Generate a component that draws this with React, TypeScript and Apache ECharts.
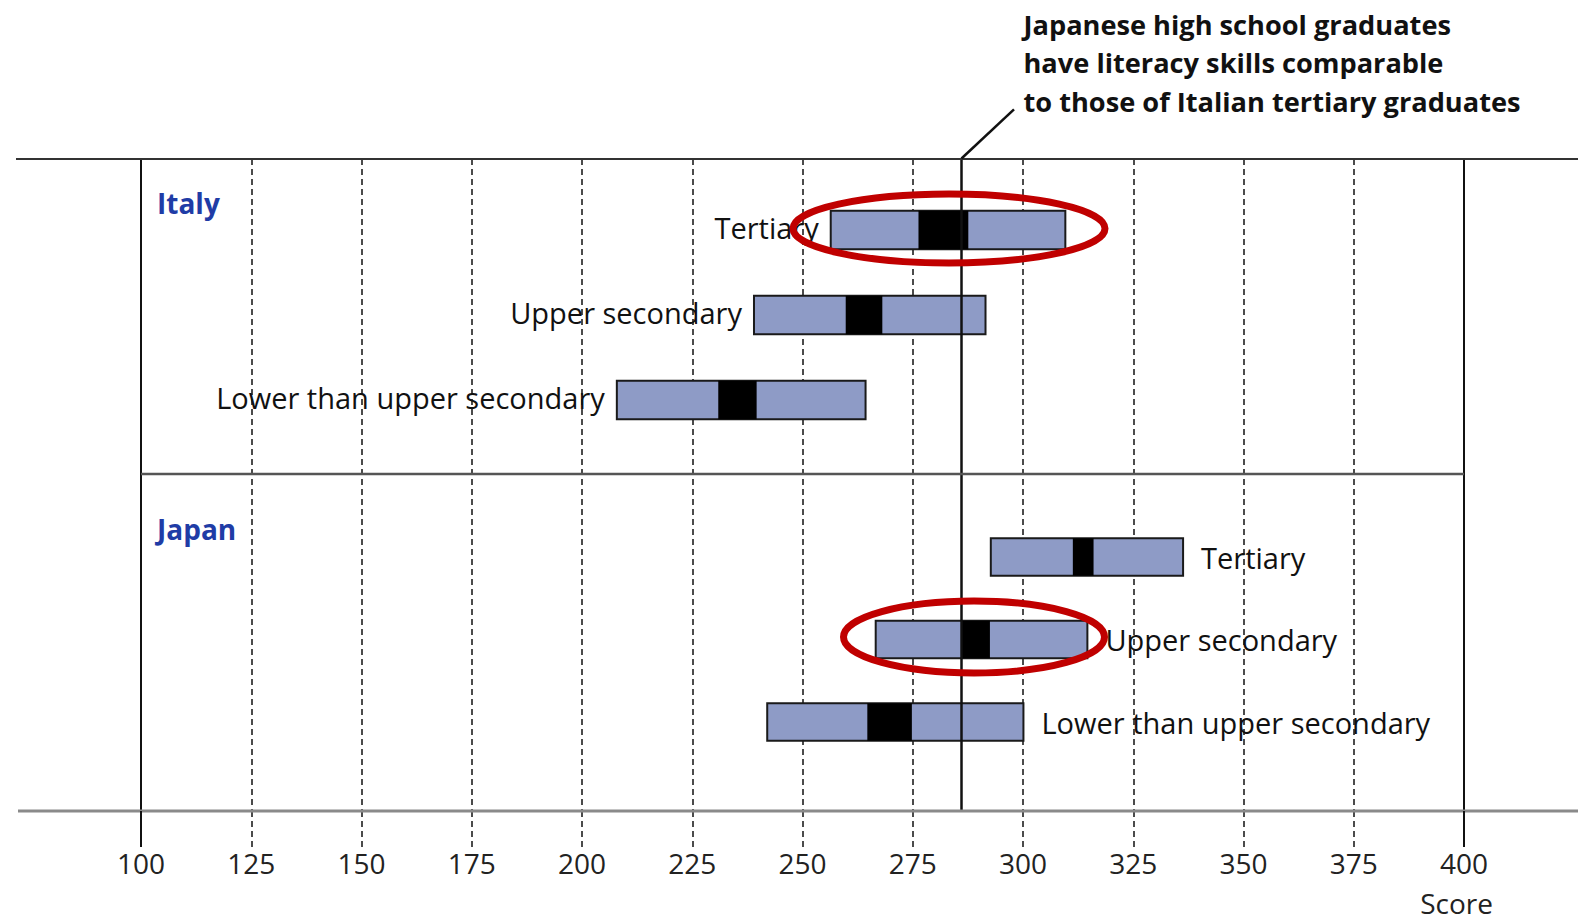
import React, { useEffect, useRef } from 'react';
import * as echarts from 'echarts';

// ---- Data ----
const educationLevels = ['Tertiary', 'Upper secondary', 'Lower than upper secondary'];
const countries = ['Italy', 'Japan'];

// box edges (low / high) and the black band (ciLow / ciHigh), literacy score
const italyLow = [256.4, 239.0, 207.9];
const italyCiLow = [276.3, 259.8, 230.9];
const italyCiHigh = [287.6, 268.1, 239.6];
const italyHigh = [309.6, 291.5, 264.3];

const japanLow = [292.7, 266.6, 242.0];
const japanCiLow = [311.3, 286.0, 264.7];
const japanCiHigh = [316.0, 292.5, 274.8];
const japanHigh = [336.3, 314.6, 300.1];

const referenceScore = 286;
const scoreMin = 100;
const scoreMax = 400;
const scoreStep = 25;

const annotationLines = [
  'Japanese high school graduates',
  'have literacy skills comparable',
  'to those of Italian tertiary graduates',
];

const FONT = 'Open Sans';
const BOX_FILL = '#8E9BC6';
const COUNTRY_BLUE = '#1F3CA6';

function buildRows(low: number[], ciLow: number[], ciHigh: number[], high: number[]) {
  return educationLevels.map((_, i) => [i, low[i], high[i], ciLow[i], ciHigh[i]]);
}

function makeRenderItem(side: 'left' | 'right', gap: number, dy: number) {
  return (params: any, api: any) => {
    const cat = api.value(0);
    const p0 = api.coord([api.value(1), cat]);
    const p1 = api.coord([api.value(2), cat]);
    const c0 = api.coord([api.value(3), cat]);
    const c1 = api.coord([api.value(4), cat]);
    const band = api.size([0, 1])[1];
    const h = band * 0.455;
    const y = p0[1] - h / 2;
    return {
      type: 'group',
      children: [
        {
          type: 'rect',
          shape: { x: p0[0], y, width: p1[0] - p0[0], height: h },
          style: { fill: BOX_FILL, stroke: '#1a1a1a', lineWidth: 2 },
        },
        {
          type: 'rect',
          shape: { x: c0[0], y, width: c1[0] - c0[0], height: h },
          style: { fill: '#000000' },
        },
        {
          type: 'text',
          style: {
            text: educationLevels[params.dataIndex],
            x: side === 'left' ? p0[0] - gap : p1[0] + gap,
            y: p0[1] + dy,
            align: side === 'left' ? 'right' : 'left',
            verticalAlign: 'middle',
            fill: '#111111',
            fontSize: 29,
            fontFamily: FONT,
          },
        },
      ],
    };
  };
}

export default function App() {
  const ref = useRef<HTMLDivElement>(null);

  useEffect(() => {
    if (!ref.current) return;
    const chart = echarts.init(ref.current, null, { renderer: 'svg' });

    const hiddenX = (gridIndex: number) => ({
      type: 'value',
      gridIndex,
      min: scoreMin,
      max: scoreMax,
      show: false,
    });
    const hiddenCatY = (gridIndex: number) => ({
      type: 'category',
      gridIndex,
      data: educationLevels,
      inverse: true,
      show: false,
    });

    const option: any = {
      animation: false,
      backgroundColor: '#ffffff',
      grid: [
        { left: 141, right: 125, top: 159, bottom: 110 },
        { left: 141, right: 125, top: 187.5, bottom: 478.5 },
        { left: 141, right: 125, top: 515.75, bottom: 157.75 },
      ],
      xAxis: [
        {
          type: 'value',
          gridIndex: 0,
          min: scoreMin,
          max: scoreMax,
          interval: scoreStep,
          axisLine: { show: false },
          axisTick: {
            show: true,
            length: 36,
            lineStyle: { color: '#111', width: 1.5, type: [6, 4] },
          },
          axisLabel: {
            margin: 38,
            color: '#222',
            fontSize: 28,
            fontFamily: FONT,
          },
          splitLine: {
            show: true,
            lineStyle: { color: '#111', width: 1.5, type: [6, 4] },
          },
        },
        hiddenX(1),
        hiddenX(2),
      ],
      yAxis: [
        {
          type: 'value',
          gridIndex: 0,
          min: 0,
          max: 1,
          position: 'left',
          axisLine: { show: true, lineStyle: { color: '#111', width: 2 } },
          axisTick: { show: false },
          axisLabel: { show: false },
          splitLine: { show: false },
        },
        {
          type: 'value',
          gridIndex: 0,
          min: 0,
          max: 1,
          position: 'right',
          axisLine: { show: true, lineStyle: { color: '#111', width: 2 } },
          axisTick: { show: false },
          axisLabel: { show: false },
          splitLine: { show: false },
        },
        hiddenCatY(1),
        hiddenCatY(2),
      ],
      series: [
        {
          type: 'custom',
          name: countries[0],
          xAxisIndex: 1,
          yAxisIndex: 2,
          z: 3,
          encode: { x: [1, 2, 3, 4], y: 0 },
          renderItem: makeRenderItem('left', 12, -3),
          data: buildRows(italyLow, italyCiLow, italyCiHigh, italyHigh),
        },
        {
          type: 'custom',
          name: countries[1],
          xAxisIndex: 2,
          yAxisIndex: 3,
          z: 3,
          encode: { x: [1, 2, 3, 4], y: 0 },
          renderItem: makeRenderItem('right', 18, 0),
          data: buildRows(japanLow, japanCiLow, japanCiHigh, japanHigh),
        },
        {
          type: 'line',
          xAxisIndex: 0,
          yAxisIndex: 0,
          data: [],
          z: 10,
          markLine: {
            silent: true,
            symbol: ['none', 'none'],
            label: { show: false },
            lineStyle: { color: '#111', width: 2.5, type: 'solid' },
            data: [{ xAxis: referenceScore }],
            z: 10,
          },
        },
      ],
      graphic: [
        // frame lines
        { type: 'line', z: 20, shape: { x1: 16, y1: 159, x2: 1578, y2: 159 }, style: { stroke: '#333', lineWidth: 2 } },
        { type: 'line', z: 20, shape: { x1: 141, y1: 474, x2: 1464, y2: 474 }, style: { stroke: '#555', lineWidth: 2.5 } },
        { type: 'line', z: 20, shape: { x1: 18, y1: 811, x2: 1578, y2: 811 }, style: { stroke: '#8a8a8a', lineWidth: 3 } },
        { type: 'line', z: 20, shape: { x1: 141, y1: 811, x2: 141, y2: 847 }, style: { stroke: '#111', lineWidth: 2 } },
        { type: 'line', z: 20, shape: { x1: 1464, y1: 811, x2: 1464, y2: 847 }, style: { stroke: '#111', lineWidth: 2 } },
        // annotation leader
        { type: 'line', z: 20, shape: { x1: 961.5, y1: 158.5, x2: 1014, y2: 109.3 }, style: { stroke: '#111', lineWidth: 2.5 } },
        {
          type: 'text',
          z: 20,
          x: 1023.5,
          y: 5,
          style: {
            text: annotationLines.join('\n'),
            fill: '#111',
            fontSize: 27.2,
            fontWeight: 'bold',
            fontFamily: FONT,
            lineHeight: 38.5,
            align: 'left',
            verticalAlign: 'top',
          },
        },
        // country labels
        {
          type: 'text', z: 20, x: 157, y: 203,
          style: { text: countries[0], fill: COUNTRY_BLUE, fontSize: 28, fontWeight: 'bold', fontFamily: FONT, align: 'left', verticalAlign: 'middle' },
        },
        {
          type: 'text', z: 20, x: 157, y: 529,
          style: { text: countries[1], fill: COUNTRY_BLUE, fontSize: 28, fontWeight: 'bold', fontFamily: FONT, align: 'left', verticalAlign: 'middle' },
        },
        // axis title
        {
          type: 'text', z: 20, x: 1493, y: 903,
          style: { text: 'Score', fill: '#222', fontSize: 28, fontFamily: FONT, align: 'right', verticalAlign: 'middle' },
        },
        // red highlight ellipses
        {
          type: 'ellipse', z: 30,
          shape: { cx: 949, cy: 228.5, rx: 156, ry: 34.5 },
          style: { fill: 'none', stroke: '#C00000', lineWidth: 7 },
        },
        {
          type: 'ellipse', z: 30,
          shape: { cx: 974, cy: 637, rx: 130.5, ry: 36 },
          style: { fill: 'none', stroke: '#C00000', lineWidth: 7 },
        },
      ],
    };

    chart.setOption(option);
    return () => chart.dispose();
  }, []);

  return (
    <div
      ref={ref}
      style={{ position: 'fixed', left: 0, top: 0, width: 1589, height: 921, background: '#fff' }}
    />
  );
}
